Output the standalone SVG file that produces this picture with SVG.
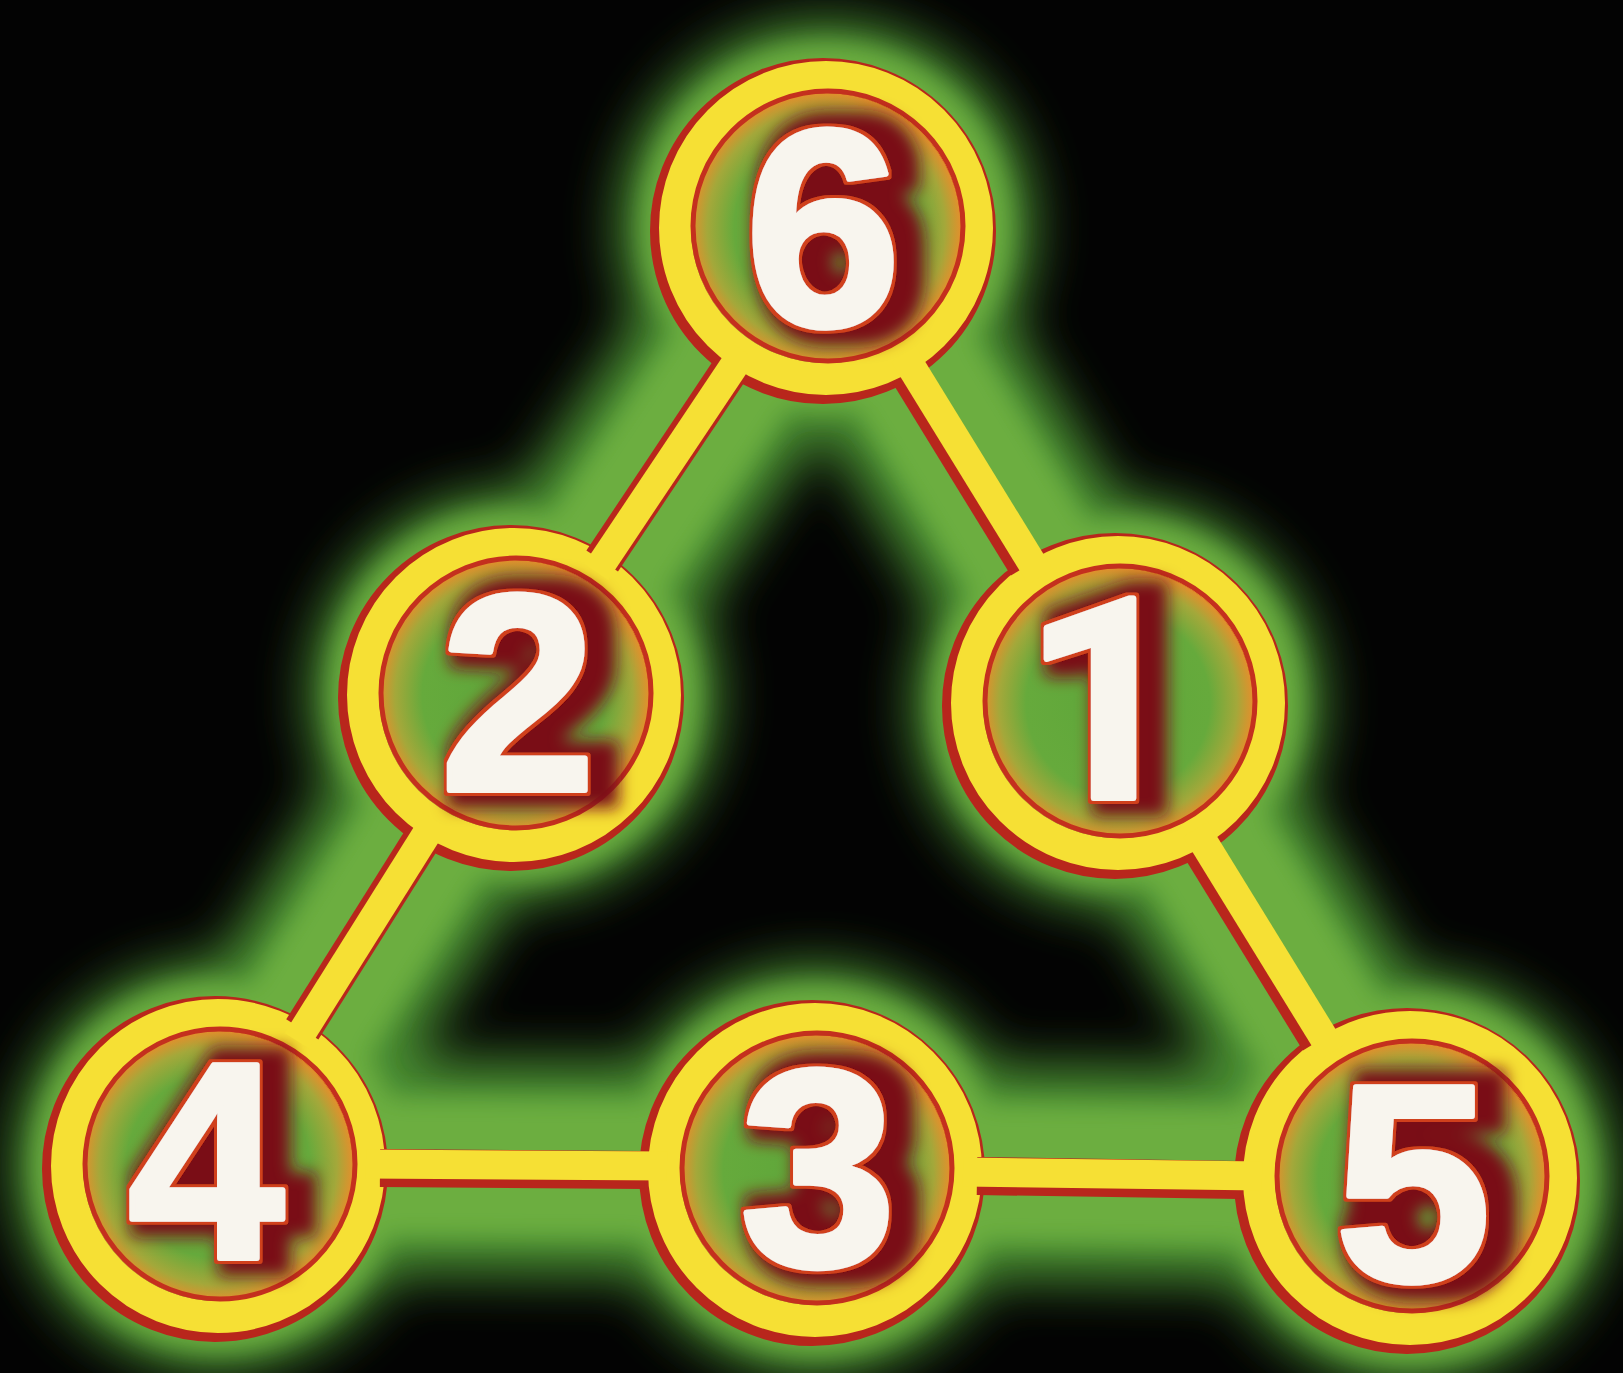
<svg xmlns="http://www.w3.org/2000/svg" width="1623" height="1373" viewBox="0 0 1623 1373">
  <defs>
    <filter id="glowBlur" x="-20%" y="-20%" width="140%" height="140%">
      <feGaussianBlur stdDeviation="26"/>
    </filter>
    <filter id="softBlur" x="-20%" y="-20%" width="140%" height="140%">
      <feGaussianBlur stdDeviation="12"/>
    </filter>
    <filter id="digitFx" x="-40%" y="-30%" width="180%" height="160%">
      <feMorphology in="SourceAlpha" operator="dilate" radius="15" result="fat"/>
      <feOffset in="fat" dx="16" dy="0" result="fatOff"/>
      <feGaussianBlur in="fatOff" stdDeviation="8" result="fatBlur"/>
      <feFlood flood-color="#7a1018" result="dark"/>
      <feComposite in="dark" in2="fatBlur" operator="in" result="shadow"/>
      <feMorphology in="SourceAlpha" operator="dilate" radius="3" result="rimA"/>
      <feFlood flood-color="#d0401e" result="redc"/>
      <feComposite in="redc" in2="rimA" operator="in" result="rim"/>
      <feMerge>
        <feMergeNode in="shadow"/>
        <feMergeNode in="rim"/>
        <feMergeNode in="SourceGraphic"/>
      </feMerge>
    </filter>
    <radialGradient id="interior" cx="0.5" cy="0.5" r="0.5">
      <stop offset="0" stop-color="#5ea63a"/>
      <stop offset="0.68" stop-color="#66aa3c"/>
      <stop offset="0.88" stop-color="#a4a83a"/>
      <stop offset="1" stop-color="#e2902c"/>
    </radialGradient>
    <style>
      .ringRed { fill: none; stroke: #b8261c; stroke-width: 40; }
      .ringYel { fill: none; stroke: #f6e034; stroke-width: 32; }
      .disk { fill: url(#interior); }
      .innerRed { fill: none; stroke: #c4301e; stroke-width: 5; }
      .digit { font-family: "Liberation Sans", Arial, sans-serif; font-weight: 700; font-size: 280px; text-anchor: middle; fill: #f8f5ee; stroke: #f8f5ee; stroke-width: 6; stroke-linejoin: round; filter: url(#digitFx); }
      .one { font-family: Roboto, "Liberation Sans", Arial, sans-serif; }
      .conRed { stroke: #b8261c; stroke-width: 38; fill: none; }
      .conYel { stroke: #f6e034; stroke-width: 29; fill: none; }
    </style>
  </defs>

  <rect x="0" y="0" width="1623" height="1373" fill="#030303"/>

  <!-- green glow -->
  <g id="glow">
    <g filter="url(#glowBlur)" fill="#4a8e30" stroke="#4a8e30" stroke-width="215" stroke-linejoin="round">
      <polygon points="826,228 514,695 218,1166 815,1170 1410,1178 1118,703" fill="none"/>
      <circle cx="826" cy="228" r="208" stroke="none"/>
      <circle cx="514" cy="695" r="205" stroke="none"/>
      <circle cx="1118" cy="703" r="205" stroke="none"/>
      <circle cx="218" cy="1166" r="205" stroke="none"/>
      <circle cx="815" cy="1170" r="205" stroke="none"/>
      <circle cx="1410" cy="1178" r="205" stroke="none"/>
    </g>
    <g filter="url(#softBlur)" fill="#6cae40" stroke="#6cae40" stroke-width="140" stroke-linejoin="round">
      <polygon points="826,228 514,695 218,1166 815,1170 1410,1178 1118,703" fill="none"/>
      <circle cx="826" cy="228" r="185" stroke="none"/>
      <circle cx="514" cy="695" r="185" stroke="none"/>
      <circle cx="1118" cy="703" r="185" stroke="none"/>
      <circle cx="218" cy="1166" r="185" stroke="none"/>
      <circle cx="815" cy="1170" r="185" stroke="none"/>
      <circle cx="1410" cy="1178" r="185" stroke="none"/>
    </g>
  </g>

  <g id="node-6">
    <circle class="ringRed" cx="823" cy="231" r="153"/>
    <circle class="ringYel" cx="826" cy="228" r="151"/>
    <circle class="disk" cx="826" cy="228" r="135"/>
    <circle class="innerRed" cx="828" cy="226" r="135"/>
    <text class="digit" x="823" y="325">6</text>
  </g>

  <g id="node-2">
    <circle class="ringRed" cx="511" cy="698" r="153"/>
    <circle class="ringYel" cx="514" cy="695" r="151"/>
    <circle class="disk" cx="514" cy="695" r="135"/>
    <circle class="innerRed" cx="516" cy="693" r="135"/>
    <text class="digit" x="518" y="790">2</text>
  </g>

  <g id="node-1">
    <circle class="ringRed" cx="1115" cy="706" r="153"/>
    <circle class="ringYel" cx="1118" cy="703" r="151"/>
    <circle class="disk" cx="1118" cy="703" r="135"/>
    <circle class="innerRed" cx="1120" cy="701" r="135"/>
    <text class="digit one" x="1104" y="798">1</text>
  </g>

  <g id="node-4">
    <circle class="ringRed" cx="215" cy="1169" r="153"/>
    <circle class="ringYel" cx="218" cy="1166" r="151"/>
    <circle class="disk" cx="218" cy="1166" r="135"/>
    <circle class="innerRed" cx="220" cy="1164" r="135"/>
    <text class="digit" x="206" y="1258">4</text>
  </g>

  <g id="node-3">
    <circle class="ringRed" cx="812" cy="1173" r="153"/>
    <circle class="ringYel" cx="815" cy="1170" r="151"/>
    <circle class="disk" cx="815" cy="1170" r="135"/>
    <circle class="innerRed" cx="817" cy="1168" r="135"/>
    <text class="digit" x="818" y="1265">3</text>
  </g>

  <g id="node-5">
    <circle class="ringRed" cx="1407" cy="1181" r="153"/>
    <circle class="ringYel" cx="1410" cy="1178" r="151"/>
    <circle class="disk" cx="1410" cy="1178" r="135"/>
    <circle class="innerRed" cx="1412" cy="1176" r="135"/>
    <text class="digit" x="1413" y="1280">5</text>
  </g>

  <g id="connectors">
    <g transform="translate(-4,4)">
      <line class="conRed" x1="733.8" y1="366" x2="606.2" y2="557"/>
      <line class="conRed" x1="912.9" y1="369.4" x2="1031.1" y2="561.6"/>
      <line class="conRed" x1="425.7" y1="835.6" x2="306.3" y2="1025.4"/>
      <line class="conRed" x1="1204.9" y1="844.4" x2="1323.1" y2="1036.6"/>
      <line class="conRed" x1="384" y1="1164" x2="649" y2="1166"/>
      <line class="conRed" x1="981" y1="1172" x2="1244" y2="1176"/>
    </g>
    <line class="conYel" x1="743.8" y1="351.1" x2="596.2" y2="571.9"/>
    <line class="conYel" x1="903.5" y1="354.1" x2="1040.5" y2="576.9"/>
    <line class="conYel" x1="435.2" y1="820.3" x2="296.8" y2="1040.7"/>
    <line class="conYel" x1="1195.5" y1="829.1" x2="1332.5" y2="1051.9"/>
    <line class="conYel" x1="366" y1="1164" x2="667" y2="1166"/>
    <line class="conYel" x1="963" y1="1172" x2="1262" y2="1176"/>
  </g>
</svg>
